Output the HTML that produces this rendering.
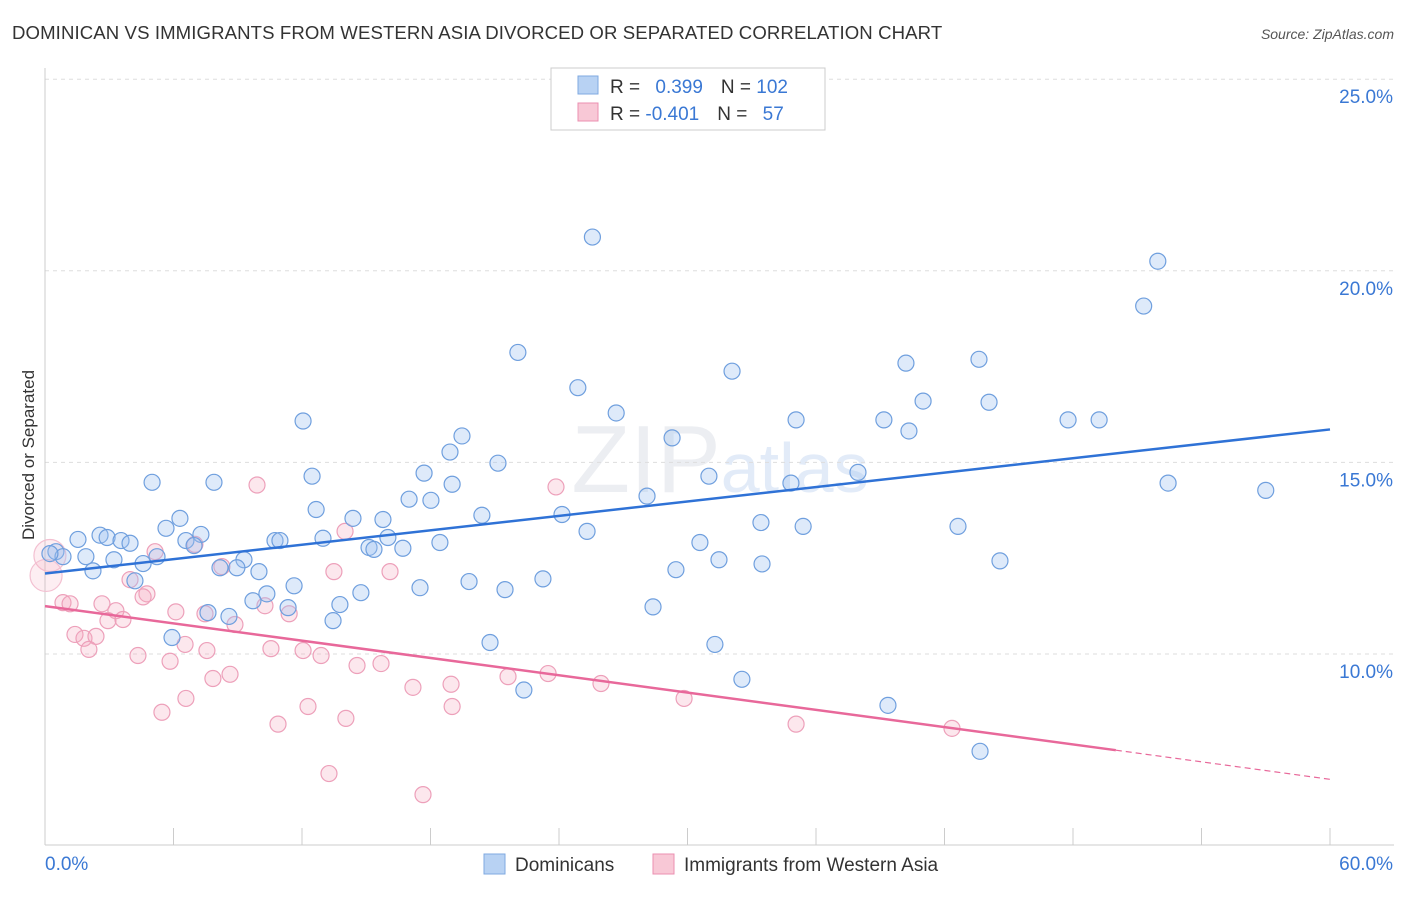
<!DOCTYPE html>
<html><head><meta charset="utf-8"><style>
body{margin:0;background:#fff;font-family:"Liberation Sans",sans-serif}
svg text{font-family:"Liberation Sans",sans-serif}
</style></head><body>
<svg id="chart" width="1406" height="892" xmlns="http://www.w3.org/2000/svg">
<text x="12" y="39" font-size="18.6" fill="#333" letter-spacing="0.1">DOMINICAN VS IMMIGRANTS FROM WESTERN ASIA DIVORCED OR SEPARATED CORRELATION CHART</text>
<text x="1394" y="39" font-size="14" fill="#555" text-anchor="end" font-style="italic">Source: ZipAtlas.com</text>
<text x="720" y="492" font-size="96" fill="#eceef2" text-anchor="middle" font-family="Liberation Serif">ZIP<tspan fill="#e2ebf8" font-family="Liberation Sans" font-size="70">atlas</tspan></text>
<g id="grid"></g><g id="axes"></g><g id="marks"></g>
<text transform="translate(34,455) rotate(-90)" font-size="17" fill="#333" text-anchor="middle">Divorced or Separated</text>
<g>
<rect x="551" y="68" width="274" height="62" fill="#fff" stroke="#ccc"/>
<rect x="578" y="76" width="20" height="18" fill="#b8d2f3" stroke="#7fa9e0"/>
<rect x="578" y="103" width="20" height="18" fill="#f8c8d6" stroke="#eb8fb0"/>
<text x="610" y="93" font-size="19" fill="#333">R = <tspan fill="#3a78d4" dx="10">0.399</tspan><tspan dx="18">N = </tspan><tspan fill="#3a78d4">102</tspan></text>
<text x="610" y="120" font-size="19" fill="#333">R = <tspan fill="#3a78d4">-0.401</tspan><tspan dx="18">N = </tspan><tspan fill="#3a78d4" dx="10">57</tspan></text>
</g>
<g>
<rect x="484" y="854" width="21" height="20" fill="#b8d2f3" stroke="#7fa9e0"/>
<text x="515" y="871" font-size="19" fill="#333">Dominicans</text>
<rect x="653" y="854" width="21" height="20" fill="#f8c8d6" stroke="#eb8fb0"/>
<text x="684" y="871" font-size="19" fill="#333">Immigrants from Western Asia</text>
</g>
</svg>
<script>
const yTicks=[10,15,20,25];
const xTickLabels=["0.0%","60.0%"];
const blueX=[25.56,51.96,51.30,22.08,32.08,40.20,43.61,24.88,41.00,44.08,26.67,12.05,35.07,39.17,47.77,49.22,19.47,29.28,40.34,18.91,17.70,21.15,12.47,5.00,7.89,19.01,31.00,37.96,34.83,52.44,57.00,17.00,18.02,28.11,12.66,14.38,15.78,20.40,24.14,6.30,33.43,35.40,42.63,5.65,7.28,2.57,1.54,2.90,3.55,3.97,6.58,6.96,10.74,10.97,12.98,16.01,18.44,25.31,30.58,15.13,15.36,16.71,0.51,0.84,1.91,3.22,5.23,9.29,2.24,4.58,8.17,8.96,9.99,31.47,33.48,44.59,29.46,19.80,23.25,4.20,11.63,17.51,21.48,14.75,10.36,9.71,13.77,7.61,8.59,11.35,28.39,13.45,5.93,20.78,31.28,32.54,22.36,39.36,43.66,0.23];
const blueY=[20.88,20.25,19.08,17.87,17.38,17.59,17.69,16.95,16.60,16.57,16.29,16.08,16.11,16.11,16.11,16.11,15.69,15.64,15.82,15.27,14.72,14.98,14.64,14.48,14.48,14.43,14.64,14.74,14.46,14.46,14.27,14.04,14.01,14.12,13.77,13.54,13.51,13.62,13.64,13.54,13.43,13.33,13.33,13.28,13.12,13.10,12.99,13.04,12.96,12.89,12.96,12.83,12.96,12.96,13.02,13.04,12.91,13.20,12.91,12.78,12.73,12.76,12.67,12.54,12.54,12.46,12.54,12.46,12.17,12.36,12.25,12.25,12.15,12.46,12.35,12.43,12.20,11.89,11.96,11.91,11.78,11.73,11.68,11.60,11.57,11.39,11.29,11.08,10.98,11.21,11.23,10.87,10.43,10.30,10.25,9.34,9.06,8.66,7.46,12.62];
const pinkX=[0.23,0.05,9.90,23.86,14.01,5.14,7.00,8.26,13.49,16.11,3.97,4.76,0.84,1.17,2.66,3.31,4.58,6.11,7.47,10.27,11.40,2.94,3.64,8.87,1.40,1.82,2.38,2.05,6.54,7.56,10.55,12.05,12.89,4.34,5.84,14.57,15.69,8.64,7.84,21.62,23.49,25.96,17.18,18.96,6.58,5.46,12.28,19.01,29.84,14.05,10.88,35.07,42.35,13.26,17.65];
const pinkY=[12.57,12.05,14.41,14.36,13.20,12.67,12.86,12.28,12.15,12.15,11.94,11.57,11.34,11.31,11.31,11.13,11.49,11.10,11.05,11.26,11.05,10.87,10.90,10.77,10.51,10.41,10.46,10.12,10.25,10.09,10.14,10.09,9.96,9.96,9.81,9.70,9.75,9.47,9.36,9.41,9.49,9.23,9.13,9.21,8.84,8.48,8.63,8.63,8.84,8.32,8.17,8.17,8.06,6.88,6.33];
const blueLine=[[0,12.10],[60,15.86]];
const pinkLine=[[0,11.25],[50,7.49],[60,6.73]];
const sx=v=>45+v/60*1285, sy=v=>654-(v-10)*38.32;
const NS="http://www.w3.org/2000/svg";
function mk(t,a,p){const e=document.createElementNS(NS,t);for(const k in a)e.setAttribute(k,a[k]);p.appendChild(e);return e;}
const grid=document.getElementById('grid'),axes=document.getElementById('axes'),marks=document.getElementById('marks');
yTicks.forEach(t=>{
 const l=mk('line',{x1:45,x2:1394,y1:sy(t),y2:sy(t),stroke:'#ddd','stroke-dasharray':'4,4'},grid);
 
 
 const tx=mk('text',{x:1393,y:sy(t)+24,'font-size':19,fill:'#3a78d4','text-anchor':'end'},axes);
 tx.textContent=t.toFixed(1)+'%';
 
 
});
const xl=mk('line',{x1:45,x2:1394,y1:845,y2:845,stroke:'#ccc'},axes);


const yl=mk('line',{x1:45,x2:45,y1:68,y2:845,stroke:'#ccc'},axes);


for(let i=1;i<=10;i++){const t=mk('line',{x1:sx(i*6),x2:sx(i*6),y1:828,y2:845,stroke:'#ccc'},axes);
 
 }
xTickLabels.forEach((s,i)=>{const t=mk('text',{x:i?1393:45,y:870,'font-size':19,fill:'#3a78d4','text-anchor':i?'end':'start'},axes);t.textContent=s;
 
 });
pinkX.forEach((x,i)=>{const c=mk('circle',{cx:sx(x),cy:sy(pinkY[i]),r:i<2?16:8,fill:i<2?'rgba(244,168,192,0.2)':'rgba(244,168,192,0.28)',stroke:i<2?'#f3c0d1':'#eda0ba','stroke-width':1.2},marks);
 
 });
blueX.forEach((x,i)=>{const c=mk('circle',{cx:sx(x),cy:sy(blueY[i]),r:8,fill:'rgba(160,196,240,0.35)',stroke:'#6f9fde','stroke-width':1.2},marks);
 
 });
const bl=mk('line',{x1:sx(blueLine[0][0]),y1:sy(blueLine[0][1]),x2:sx(blueLine[1][0]),y2:sy(blueLine[1][1]),stroke:'#2f72d6','stroke-width':2.5},marks);


const pl=mk('line',{x1:sx(pinkLine[0][0]),y1:sy(pinkLine[0][1]),x2:sx(pinkLine[1][0]),y2:sy(pinkLine[1][1]),stroke:'#e8689a','stroke-width':2.5},marks);


const pd=mk('line',{x1:sx(pinkLine[1][0]),y1:sy(pinkLine[1][1]),x2:sx(pinkLine[2][0]),y2:sy(pinkLine[2][1]),stroke:'#e8689a','stroke-width':1.2,'stroke-dasharray':'6,4'},marks);


</script>
</body></html>
